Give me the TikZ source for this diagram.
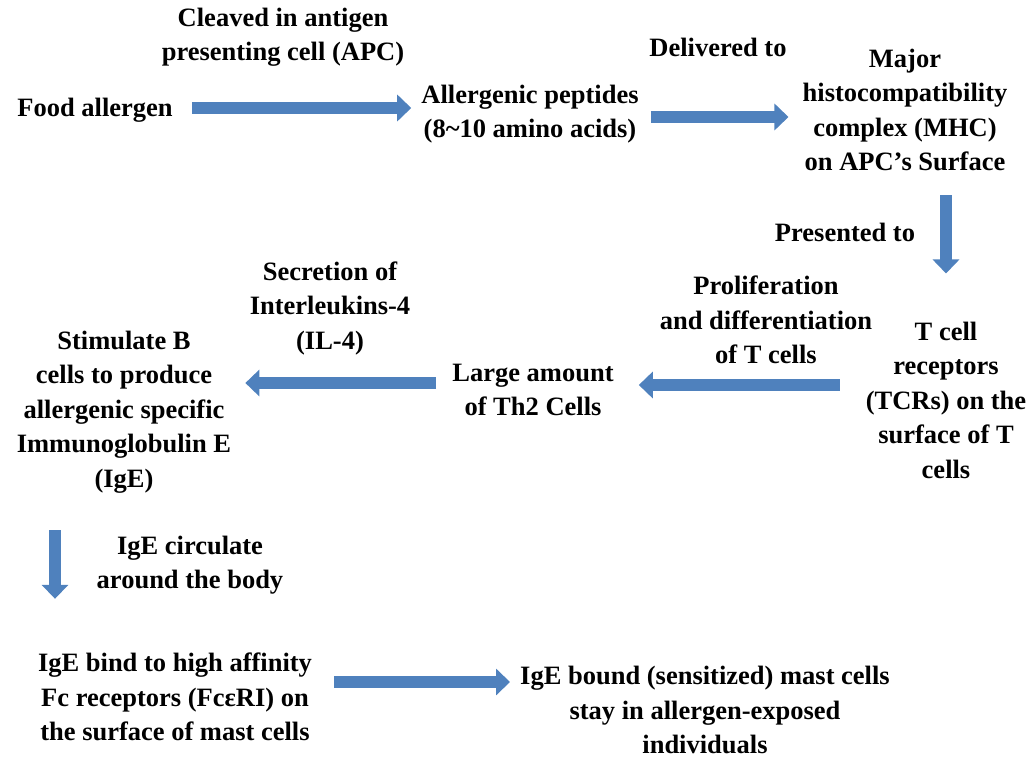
\documentclass[tikz,border=0pt]{standalone}
\usepackage{fontspec}
\setmainfont{Liberation Serif}
\usetikzlibrary{arrows.meta,positioning}
\definecolor{arrowblue}{HTML}{4F81BD}
\tikzset{
  txt/.style={align=center,inner sep=2pt,font=\fontsize{26.5}{34.5}\selectfont\bfseries},
  blockarrow/.style={arrowblue,line width=12pt,-{Triangle[width=26pt,length=14pt]}}
}
\begin{document}
\begin{tikzpicture}[x=1pt,y=-1pt]
  \useasboundingbox (0,0) rectangle (1027,759);
  % steps of the chain
  \node[txt] (food) at (95,110) {Food allergen};
  \node[txt] (pep) at (530,114) {Allergenic peptides\\(8\char`~10 amino acids)};
  \node[txt] (mhc) at (905,110) {Major\\histocompatibility\\complex (MHC)\\on APC’s Surface};
  \node[txt] (tcr) at (946,400) {T cell\\receptors\\(TCRs) on the\\surface of T\\cells};
  \node[txt] (th2) at (533,390) {Large amount\\of Th2 Cells};
  \node[txt] (stim) at (124,412) {Stimulate B\\cells to produce\\allergenic specific\\Immunoglobulin E\\(IgE)};
  \node[txt] (bind) at (175,697) {IgE bind to high affinity\\Fc receptors (FcεRI) on\\the surface of mast cells};
  \node[txt] (sens) at (705,710) {IgE bound (sensitized) mast cells\\stay in allergen-exposed\\individuals};
  % labels of the arrows
  \node[txt] (cleave) at (283,37) {Cleaved in antigen\\presenting cell (APC)};
  \node[txt] (deliv) at (718,47) {Delivered to};
  \node[txt] (pres) at (845,232) {Presented to};
  \node[txt] (prolif) at (766,320) {Proliferation\\and differentiation\\of T cells};
  \node[txt] (secr) at (330,308) {Secretion of\\Interleukins-4\\(IL-4)};
  \node[txt] (circ) at (190,565) {IgE circulate\\around the body};
  % arrows
  \begin{scope}[blockarrow]
    \draw[shorten <=17pt,shorten >=8pt] ([yshift=2pt]food.east) -- ([yshift=2pt]food.east -| pep.west);
    \draw[shorten <=10pt,shorten >=12pt] ([yshift=-3pt]pep.east) -- ([yshift=-3pt]pep.east -| mhc.west);
    \draw[shorten <=22pt,shorten >=46pt] (mhc.south -| tcr.north) -- (tcr.north);
    \draw[shorten <=24pt,shorten >=23pt] ([yshift=5pt]th2.east -| tcr.west) -- ([yshift=5pt]th2.east);
    \draw[shorten <=14pt,shorten >=12pt] ([yshift=7pt]th2.west) -- ([yshift=7pt]th2.west -| stim.east);
    \draw[shorten <=35pt,shorten >=52pt] ([xshift=-69pt]stim.south) -- ([xshift=-69pt]stim.south |- bind.north);
    \draw[shorten <=20pt,shorten >=8pt] ([yshift=15pt]bind.east) -- ([yshift=15pt]bind.east -| sens.west);
  \end{scope}
\end{tikzpicture}
\end{document}
